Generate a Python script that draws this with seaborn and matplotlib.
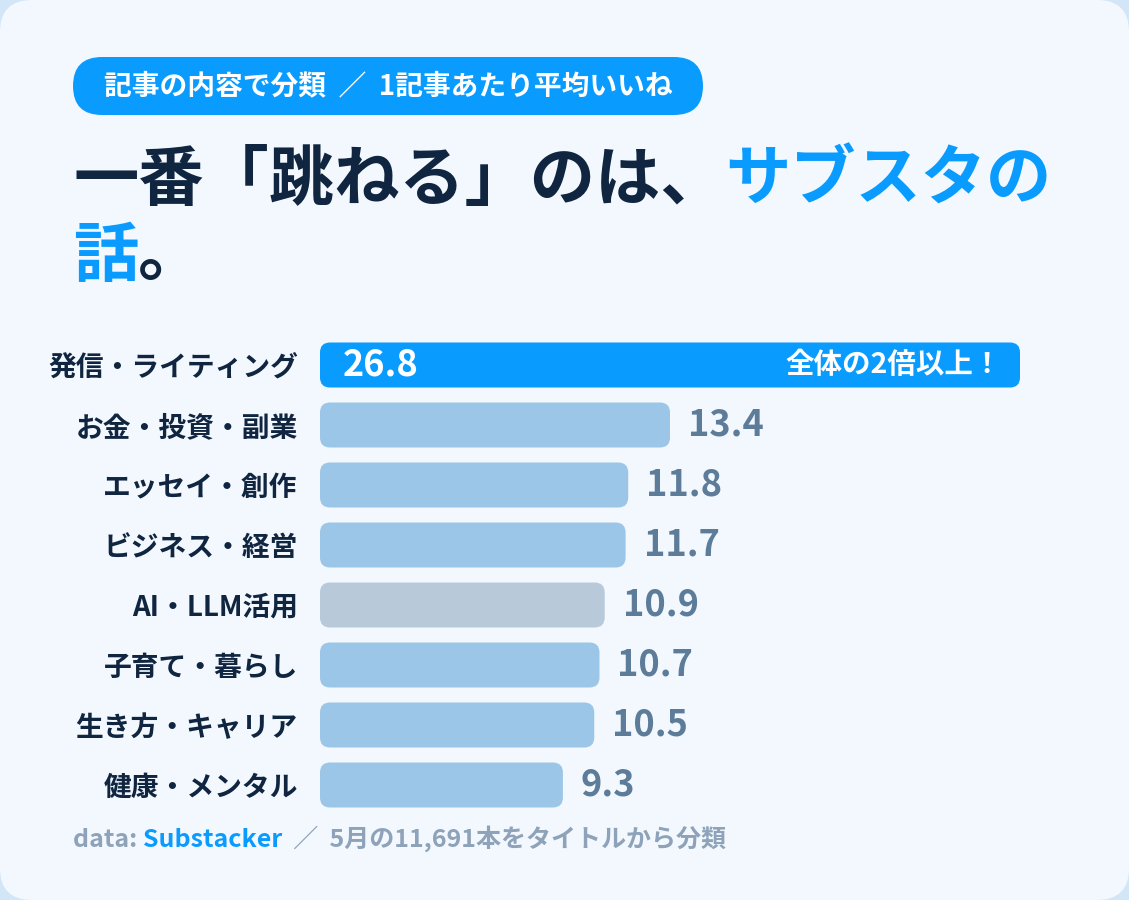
import numpy as np
import pandas as pd
import matplotlib
matplotlib.use("Agg")
import matplotlib.pyplot as plt
from matplotlib.patches import FancyBboxPatch
import seaborn as sns

# data
categories = ["発信・ライティング", "お金・投資・副業", "エッセイ・創作", "ビジネス・経営",
              "AI・LLM活用", "子育て・暮らし", "生き方・キャリア", "健康・メンタル"]
likes = [26.8, 13.4, 11.8, 11.7, 10.9, 10.7, 10.5, 9.3]
bar_colors = ["#0a9bff", "#9cc6e8", "#9cc6e8", "#9cc6e8", "#b8c9d9", "#9cc6e8", "#9cc6e8", "#9cc6e8"]

pill_text = "記事の内容で分類  ／  1記事あたり平均いいね"
title_dark = "一番「跳ねる」のは、"
title_blue = "サブスタの"
title_blue2 = "話"
title_end = "。"
note_src = "Substacker"
note_rest = "  ／  5月の11,691本をタイトルから分類"
badge = "全体の2倍以上！"

NAVY = "#10253f"
BLUE = "#0a9bff"
GREY = "#5d7c99"
FOOT = "#8ea3b9"

sns.set_theme(style="white")
plt.rcParams["font.family"] = ["Noto Sans CJK JP", "DejaVu Sans"]

W, H = 1129, 900
fig = plt.figure(figsize=(W / 100, H / 100), dpi=100)
fig.patch.set_facecolor("#d3e6f7")

# background layer in pixel units
bg = fig.add_axes([0, 0, 1, 1], zorder=0)
bg.set_xlim(0, W)
bg.set_ylim(H, 0)
bg.axis("off")
bg.add_patch(FancyBboxPatch((0, 0), W, H, boxstyle="round,pad=0,rounding_size=32",
                            fc="#f2f8fe", ec="none"))
bg.add_patch(FancyBboxPatch((73, 57), 630, 58, boxstyle="round,pad=0,rounding_size=29",
                            fc=BLUE, ec="none"))
bg.text(388, 86, pill_text, color="white", fontsize=20, weight="bold",
        ha="center", va="center")

t1 = bg.text(73, 180, title_dark, color=NAVY, fontsize=47, weight="bold",
             ha="left", va="center")
bg.annotate(title_blue, xy=(1, 0), xycoords=t1, color=BLUE, fontsize=47,
            weight="bold", ha="left", va="bottom")
t2 = bg.text(73, 256, title_blue2, color=BLUE, fontsize=47, weight="bold",
             ha="left", va="center")
bg.annotate(title_end, xy=(1, 0), xycoords=t2, color=NAVY, fontsize=47,
            weight="bold", ha="left", va="bottom")

f1 = bg.text(73, 840, "data: ", color=FOOT, fontsize=18, weight="bold",
             ha="left", va="center")
f2 = bg.annotate(note_src, xy=(1, 0), xycoords=f1, color=BLUE, fontsize=18,
                 weight="bold", ha="left", va="bottom")
bg.annotate(note_rest, xy=(1, 0), xycoords=f2, color=FOOT, fontsize=18,
            weight="bold", ha="left", va="bottom")

# bar chart
ax_l, ax_r, ax_t, ax_b = 320, 1100, 335, 815
ax = fig.add_axes([ax_l / W, 1 - ax_b / H, (ax_r - ax_l) / W, (ax_b - ax_t) / H], zorder=1)
ax.patch.set_alpha(0)

df = pd.DataFrame({"category": categories, "likes": likes})
sns.barplot(data=df, x="likes", y="category", hue="category", palette=bar_colors,
            legend=False, width=0.75, ax=ax, saturation=1)

xmax = 26.8 * (ax_r - ax_l) / 700
ax.set_xlim(0, xmax)
ax.set_ylim(7.5, -0.5)
px_x = (ax_r - ax_l) / xmax
px_y = (ax_b - ax_t) / 8
r = 10

for p in list(ax.patches):
    x0, y0 = p.get_x(), p.get_y()
    w, h = p.get_width(), p.get_height()
    fc = p.get_facecolor()
    p.remove()
    ax.add_patch(FancyBboxPatch((x0, y0), w, h,
                                boxstyle=f"round,pad=0,rounding_size={r / px_x}",
                                mutation_aspect=px_x / px_y, fc=fc, ec="none"))

for i, v in enumerate(likes):
    if i == 0:
        ax.text(23 / px_x, i, f"{v:.1f}", color="white", fontsize=26, weight="bold",
                ha="left", va="center")
        ax.text(v - 18 / px_x, i, badge, color="white", fontsize=20.5, weight="bold",
                ha="right", va="center")
    else:
        ax.text(v + 18 / px_x, i, f"{v:.1f}", color=GREY, fontsize=26, weight="bold",
                ha="left", va="center")

ax.set_xlabel("")
ax.set_ylabel("")
ax.set_xticks([])
ax.tick_params(axis="y", length=0, pad=16)
for lab in ax.get_yticklabels():
    lab.set_fontsize(20)
    lab.set_fontweight("bold")
    lab.set_color(NAVY)
sns.despine(ax=ax, left=True, bottom=True)

fig.savefig("out.png", dpi=100, facecolor=fig.get_facecolor())
